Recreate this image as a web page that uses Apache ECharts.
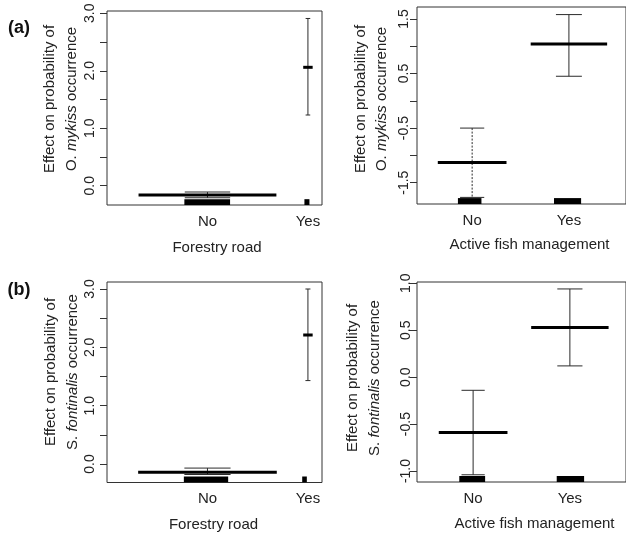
<!DOCTYPE html>
<html>
<head>
<meta charset="utf-8">
<script src="https://cdn.jsdelivr.net/npm/echarts@6/dist/echarts.min.js"></script>
<style>
  html, body { margin: 0; padding: 0; background: #fff; }
  #chart { width: 626px; height: 534px; }
</style>
</head>
<body>
<div id="chart"></div>
<script>
// Factor levels and their positions on the x scale
const categories = ['No', 'Yes'];
const categoryPositions = [1, 2];

// (a) O. mykiss — forestry road
const mykissRoadEffect = [-0.16, 2.06];
const mykissRoadLower = [-0.21, 1.23];
const mykissRoadUpper = [-0.11, 2.91];

// (a) O. mykiss — active fish management
const mykissMgmtEffect = [-1.13, 1.04];
const mykissMgmtLower = [-1.77, 0.45];
const mykissMgmtUpper = [-0.50, 1.58];

// (b) S. fontinalis — forestry road
const fontinalisRoadEffect = [-0.14, 2.21];
const fontinalisRoadLower = [-0.18, 1.43];
const fontinalisRoadUpper = [-0.07, 3.00];

// (b) S. fontinalis — active fish management
const fontinalisMgmtEffect = [-0.59, 0.53];
const fontinalisMgmtLower = [-1.04, 0.12];
const fontinalisMgmtUpper = [-0.14, 0.94];

// y-axis tick marks and labelled ticks
const roadTicks = [0, 0.5, 1, 1.5, 2, 2.5, 3];
const roadTickLabels = [0, 1, 2, 3];
const mykissMgmtTicks = [-1.5, -1, -0.5, 0, 0.5, 1, 1.5];
const mykissMgmtTickLabels = [-1.5, -0.5, 0.5, 1.5];
const fontinalisMgmtTicks = [-1, -0.5, 0, 0.5, 1];
const fontinalisMgmtTickLabels = [-1, -0.5, 0, 0.5, 1];

const FONT = "'Liberation Sans', Arial, Helvetica, sans-serif";
const INK = '#222';

// Layout and mark geometry for each panel (widths are in x-scale units)
const panels = [
  {
    grid: { left: 107, top: 11, width: 215, height: 194 },
    xRange: [0, 2.14], yRange: [-0.336, 3.04],
    ticks: roadTicks, tickLabels: roadTickLabels, labelMargin: 10,
    effect: mykissRoadEffect, lower: mykissRoadLower, upper: mykissRoadUpper,
    shape: {
      effectHalf: [0.686, 0.047], capHalf: [0.226, 0.023],
      rug: [[-0.23, 0.225], [-0.035, 0.015]], dash: [null, null]
    }
  },
  {
    grid: { left: 417, top: 7, width: 216, height: 197 },
    xRange: [0.43, 2.59], yRange: [-1.891, 1.719],
    ticks: mykissMgmtTicks, tickLabels: mykissMgmtTickLabels, labelMargin: 6,
    effect: mykissMgmtEffect, lower: mykissMgmtLower, upper: mykissMgmtUpper,
    shape: {
      effectHalf: [0.355, 0.395], capHalf: [0.125, 0.134],
      rug: [[-0.147, 0.096], [-0.154, 0.126]], dash: [[2, 1.5], null]
    }
  },
  {
    grid: { left: 107, top: 282, width: 215, height: 200.5 },
    xRange: [0, 2.14], yRange: [-0.317, 3.12],
    ticks: roadTicks, tickLabels: roadTickLabels, labelMargin: 10,
    effect: fontinalisRoadEffect, lower: fontinalisRoadLower, upper: fontinalisRoadUpper,
    shape: {
      effectHalf: [0.69, 0.047], capHalf: [0.23, 0.025],
      rug: [[-0.235, 0.206], [-0.057, -0.011]], dash: [null, null]
    }
  },
  {
    grid: { left: 417, top: 282, width: 216, height: 200 },
    xRange: [0.42, 2.58], yRange: [-1.117, 1.014],
    ticks: fontinalisMgmtTicks, tickLabels: fontinalisMgmtTickLabels, labelMargin: 4,
    effect: fontinalisMgmtEffect, lower: fontinalisMgmtLower, upper: fontinalisMgmtUpper,
    shape: {
      effectHalf: [0.355, 0.4], capHalf: [0.12, 0.13],
      rug: [[-0.143, 0.124], [-0.136, 0.147]], dash: [null, null]
    }
  }
];

// Effect segment, confidence bar with caps, and rug block at the bottom of the panel
function makeRenderer(shape) {
  return function (params, api) {
    const i = params.dataIndex;
    const x = api.value(0);
    const unit = api.size([1, 0])[0];
    const mid = api.coord([x, api.value(1)]);
    const top = api.coord([x, api.value(3)])[1];
    const bot = api.coord([x, api.value(2)])[1];
    const cs = params.coordSys;
    const base = cs.y + cs.height;
    const rugH = cs.height * 0.03;
    const capL = mid[0] - shape.capHalf[i] * unit;
    const capR = mid[0] + shape.capHalf[i] * unit;
    const barStyle = { stroke: '#2b2b2b', lineWidth: 1 };
    if (shape.dash[i]) barStyle.lineDash = shape.dash[i];
    return {
      type: 'group',
      children: [
        {
          type: 'rect',
          shape: {
            x: mid[0] + shape.rug[i][0] * unit, y: base - rugH,
            width: (shape.rug[i][1] - shape.rug[i][0]) * unit, height: rugH
          },
          style: { fill: '#000' }
        },
        { type: 'line', shape: { x1: mid[0], y1: top, x2: mid[0], y2: bot }, style: barStyle },
        { type: 'line', shape: { x1: capL, y1: top, x2: capR, y2: top }, style: { stroke: '#2b2b2b', lineWidth: 1 } },
        { type: 'line', shape: { x1: capL, y1: bot, x2: capR, y2: bot }, style: { stroke: '#2b2b2b', lineWidth: 1 } },
        {
          type: 'line',
          shape: {
            x1: mid[0] - shape.effectHalf[i] * unit, y1: mid[1],
            x2: mid[0] + shape.effectHalf[i] * unit, y2: mid[1]
          },
          style: { stroke: '#000', lineWidth: 3 }
        }
      ]
    };
  };
}

const grids = [], xAxes = [], yAxes = [], series = [];
panels.forEach((p, k) => {
  grids.push(Object.assign({
    show: true, borderColor: '#333', borderWidth: 1, backgroundColor: 'transparent'
  }, p.grid));
  xAxes.push({
    type: 'value', gridIndex: k, min: p.xRange[0], max: p.xRange[1],
    axisLine: { show: false }, axisTick: { show: false }, splitLine: { show: false },
    axisLabel: {
      customValues: categoryPositions, margin: 9,
      formatter: v => categories[categoryPositions.indexOf(v)] || '',
      fontFamily: FONT, fontSize: 15, color: INK
    }
  });
  yAxes.push({
    type: 'value', gridIndex: k, min: p.yRange[0], max: p.yRange[1],
    axisLine: { show: false }, splitLine: { show: false },
    axisTick: { show: true, customValues: p.ticks, length: 7, lineStyle: { color: '#333', width: 1 } },
    axisLabel: {
      customValues: p.tickLabels, rotate: 90, margin: p.labelMargin,
      formatter: v => v.toFixed(1),
      fontFamily: FONT, fontSize: 14, color: INK
    }
  });
  series.push({
    type: 'custom', xAxisIndex: k, yAxisIndex: k, clip: true,
    renderItem: makeRenderer(p.shape),
    encode: { x: 0, y: 1 },
    data: categoryPositions.map((pos, i) => [pos, p.effect[i], p.lower[i], p.upper[i]])
  });
});

function yTitle(cx, cy, species) {
  return {
    type: 'text', x: cx, y: cy, rotation: Math.PI / 2,
    style: {
      text: 'Effect on probability of\n' + species,
      fontFamily: FONT, fontSize: 15, fill: INK, lineHeight: 21.5,
      align: 'center', verticalAlign: 'middle',
      rich: { i: { fontStyle: 'italic', fontFamily: FONT, fontSize: 15, fill: INK, lineHeight: 21.5 } }
    }
  };
}
function xTitle(cx, cy, text) {
  return {
    type: 'text', x: cx, y: cy,
    style: { text, fontFamily: FONT, fontSize: 15, fill: INK, align: 'center', verticalAlign: 'middle' }
  };
}
function panelTag(cx, cy, text) {
  return {
    type: 'text', x: cx, y: cy,
    style: { text, fontFamily: FONT, fontSize: 18, fontWeight: 'bold', fill: '#111', align: 'center', verticalAlign: 'middle' }
  };
}

const chart = echarts.init(document.getElementById('chart'), null, { renderer: 'canvas' });
chart.setOption({
  animation: false,
  backgroundColor: '#fff',
  grid: grids,
  xAxis: xAxes,
  yAxis: yAxes,
  series: series,
  graphic: [
    panelTag(19, 28, '(a)'),
    panelTag(19, 290, '(b)'),
    yTitle(61, 99, 'O. {i|mykiss} occurrence'),
    yTitle(371.5, 99, 'O. {i|mykiss} occurrence'),
    yTitle(62, 372, 'S. {i|fontinalis} occurrence'),
    yTitle(364, 378, 'S. {i|fontinalis} occurrence'),
    xTitle(217, 248, 'Forestry road'),
    xTitle(529.5, 245, 'Active fish management'),
    xTitle(213.5, 525, 'Forestry road'),
    xTitle(534.5, 523.5, 'Active fish management')
  ]
});
</script>
</body>
</html>
